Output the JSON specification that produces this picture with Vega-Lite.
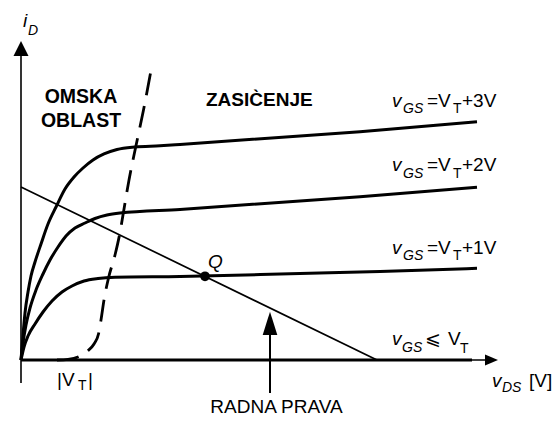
{
  "$schema": "https://vega.github.io/schema/vega-lite/v6.json",
  "width": 560,
  "height": 421,
  "padding": 0,
  "autosize": "none",
  "background": "white",
  "config": {"view": {"stroke": null}, "text": {"font": "Liberation Sans, DejaVu Sans", "color": "black"}},
  "datasets": {
    "curves": [
      {"curve": "VT+1V", "x": 0, "y": 0}, {"curve": "VT+1V", "x": 0.075, "y": 0.433}, {"curve": "VT+1V", "x": 0.175, "y": 0.8},
      {"curve": "VT+1V", "x": 0.35, "y": 1.2}, {"curve": "VT+1V", "x": 0.55, "y": 1.6}, {"curve": "VT+1V", "x": 0.775, "y": 1.967},
      {"curve": "VT+1V", "x": 1.025, "y": 2.267}, {"curve": "VT+1V", "x": 1.275, "y": 2.467}, {"curve": "VT+1V", "x": 1.575, "y": 2.633},
      {"curve": "VT+1V", "x": 1.925, "y": 2.717}, {"curve": "VT+1V", "x": 2.35, "y": 2.757}, {"curve": "VT+1V", "x": 3.975, "y": 2.783},
      {"curve": "VT+1V", "x": 6.975, "y": 2.883}, {"curve": "VT+1V", "x": 8.975, "y": 2.95}, {"curve": "VT+1V", "x": 11.4, "y": 3.057},
      {"curve": "VT+2V", "x": 0, "y": 0}, {"curve": "VT+2V", "x": 0.05, "y": 0.567}, {"curve": "VT+2V", "x": 0.125, "y": 1.167},
      {"curve": "VT+2V", "x": 0.225, "y": 1.733}, {"curve": "VT+2V", "x": 0.375, "y": 2.333}, {"curve": "VT+2V", "x": 0.55, "y": 2.867},
      {"curve": "VT+2V", "x": 0.725, "y": 3.333}, {"curve": "VT+2V", "x": 0.925, "y": 3.767}, {"curve": "VT+2V", "x": 1.125, "y": 4.133},
      {"curve": "VT+2V", "x": 1.35, "y": 4.4}, {"curve": "VT+2V", "x": 1.6, "y": 4.567}, {"curve": "VT+2V", "x": 1.85, "y": 4.717},
      {"curve": "VT+2V", "x": 2.15, "y": 4.833}, {"curve": "VT+2V", "x": 2.475, "y": 4.9}, {"curve": "VT+2V", "x": 3.975, "y": 5.017},
      {"curve": "VT+2V", "x": 8.475, "y": 5.443}, {"curve": "VT+2V", "x": 11.4, "y": 5.757},
      {"curve": "VT+3V", "x": 0, "y": 0}, {"curve": "VT+3V", "x": 0.05, "y": 0.833}, {"curve": "VT+3V", "x": 0.1, "y": 1.567},
      {"curve": "VT+3V", "x": 0.175, "y": 2.267}, {"curve": "VT+3V", "x": 0.25, "y": 2.8}, {"curve": "VT+3V", "x": 0.35, "y": 3.267},
      {"curve": "VT+3V", "x": 0.5, "y": 3.867}, {"curve": "VT+3V", "x": 0.675, "y": 4.533}, {"curve": "VT+3V", "x": 0.875, "y": 5.1},
      {"curve": "VT+3V", "x": 1.1, "y": 5.7}, {"curve": "VT+3V", "x": 1.325, "y": 6.1}, {"curve": "VT+3V", "x": 1.55, "y": 6.4},
      {"curve": "VT+3V", "x": 1.8, "y": 6.667}, {"curve": "VT+3V", "x": 2.075, "y": 6.867}, {"curve": "VT+3V", "x": 2.4, "y": 7.017},
      {"curve": "VT+3V", "x": 2.85, "y": 7.1}, {"curve": "VT+3V", "x": 3.475, "y": 7.14}, {"curve": "VT+3V", "x": 3.975, "y": 7.183},
      {"curve": "VT+3V", "x": 8.475, "y": 7.61}, {"curve": "VT+3V", "x": 11.4, "y": 7.943}
    ],
    "cutoff": [{"x": 0, "y": 0}, {"x": 11.275, "y": 0}],
    "boundary": [
      {"x": 0.9, "y": 0}, {"x": 1.175, "y": 0.023}, {"x": 1.45, "y": 0.117}, {"x": 1.65, "y": 0.283},
      {"x": 1.825, "y": 0.533}, {"x": 1.9375, "y": 0.867}, {"x": 2.0, "y": 1.333}, {"x": 2.075, "y": 2.0},
      {"x": 2.1875, "y": 2.733}, {"x": 2.35, "y": 3.5}, {"x": 2.4625, "y": 4.167}, {"x": 2.5625, "y": 4.933},
      {"x": 2.7, "y": 6.0}, {"x": 2.8625, "y": 7.067}, {"x": 3.0625, "y": 8.333}, {"x": 3.275, "y": 9.833}
    ],
    "loadLine": [{"x": 0, "y": 5.767}, {"x": 8.9, "y": 0}],
    "qPoint": [{"x": 4.6, "y": 2.79}],
    "italicMain": [
      {"label": "v", "x": 9.275, "y": 8.45}, {"label": "v", "x": 9.275, "y": 6.3}, {"label": "v", "x": 9.275, "y": 3.55},
      {"label": "v", "x": 9.275, "y": 0.5}, {"label": "v", "x": 11.775, "y": -0.9},
      {"label": "i", "x": 0.05, "y": 11.1}, {"label": "Q", "x": 4.675, "y": 3.067}
    ],
    "italicSub": [
      {"label": "GS", "x": 9.55, "y": 8.233}, {"label": "GS", "x": 9.55, "y": 6.083}, {"label": "GS", "x": 9.55, "y": 3.333},
      {"label": "GS", "x": 9.525, "y": 0.267}, {"label": "DS", "x": 12.025, "y": -1.067}, {"label": "D", "x": 0.175, "y": 10.833}
    ],
    "uprightMain": [
      {"label": "=V", "x": 10.15, "y": 8.45}, {"label": "=V", "x": 10.15, "y": 6.3}, {"label": "=V", "x": 10.15, "y": 3.55},
      {"label": "+3V", "x": 11.025, "y": 8.45}, {"label": "+2V", "x": 11.025, "y": 6.3}, {"label": "+1V", "x": 11.025, "y": 3.55},
      {"label": "⩽", "x": 10.1, "y": 0.5}, {"label": "V", "x": 10.675, "y": 0.5},
      {"label": "[V]", "x": 12.7, "y": -0.9}, {"label": "|V", "x": 0.9, "y": -0.867}, {"label": "|", "x": 1.675, "y": -0.867}
    ],
    "uprightSub": [
      {"label": "T", "x": 10.8, "y": 8.233}, {"label": "T", "x": 10.8, "y": 6.083}, {"label": "T", "x": 10.8, "y": 3.333},
      {"label": "T", "x": 10.975, "y": 0.233}, {"label": "T", "x": 1.425, "y": -1.0}
    ],
    "regionTitles": [{"label": "OMSKA", "x": 1.5, "y": 8.567}, {"label": "OBLAST", "x": 1.5, "y": 7.767}],
    "saturationTitle": [{"label": "ZASIC\u0300ENJE", "x": 4.625, "y": 8.467}],
    "loadLineTitle": [{"label": "RADNA PRAVA", "x": 6.3875, "y": -1.767}]
  },
  "encoding": {
    "x": {"field": "x", "type": "quantitative", "axis": null, "scale": {"domain": [-0.525, 13.475], "nice": false, "zero": false}},
    "y": {"field": "y", "type": "quantitative", "axis": null, "scale": {"domain": [-2.0333, 12], "nice": false, "zero": false}}
  },
  "layer": [
    {
      "data": {"values": [{"x": 0, "y": -0.767, "y2": 10.333}]},
      "mark": {"type": "rule", "strokeWidth": 1.6, "color": "black"},
      "encoding": {"y2": {"field": "y2"}}
    },
    {
      "data": {"values": [{"x": 0, "x2": 11.725, "y": 0}]},
      "mark": {"type": "rule", "strokeWidth": 1.6, "color": "black"},
      "encoding": {"x2": {"field": "x2"}}
    },
    {
      "data": {"values": [{"x": 0, "y": 10.383}]},
      "mark": {"type": "point", "shape": "M0,-1L1,1L-1,1Z", "size": 225, "filled": true, "color": "black", "opacity": 1}
    },
    {
      "data": {"values": [{"x": 11.7625, "y": 0}]},
      "mark": {"type": "point", "shape": "M1,0L-1,-0.85L-1,0.85Z", "size": 169, "filled": true, "color": "black", "opacity": 1}
    },
    {
      "data": {"name": "loadLine"},
      "mark": {"type": "line", "strokeWidth": 1.7, "color": "black"}
    },
    {
      "data": {"name": "curves"},
      "mark": {"type": "line", "strokeWidth": 3, "color": "black", "interpolate": "monotone"},
      "encoding": {"detail": {"field": "curve"}}
    },
    {
      "data": {"name": "cutoff"},
      "mark": {"type": "line", "strokeWidth": 3, "color": "black"}
    },
    {
      "data": {"name": "boundary"},
      "mark": {"type": "line", "strokeWidth": 2.8, "color": "black", "strokeDash": [22, 11], "interpolate": "monotone"}
    },
    {
      "data": {"name": "qPoint"},
      "mark": {"type": "point", "shape": "circle", "size": 95, "filled": true, "color": "black", "opacity": 1}
    },
    {
      "data": {"values": [{"x": 6.225, "y": -1.1, "y2": 1.0}]},
      "mark": {"type": "rule", "strokeWidth": 2, "color": "black"},
      "encoding": {"y2": {"field": "y2"}}
    },
    {
      "data": {"values": [{"x": 6.225, "y": 1.222}]},
      "mark": {"type": "point", "shape": "M0,-1L0.63,1L-0.63,1Z", "size": 543, "filled": true, "color": "black", "opacity": 1}
    },
    {
      "data": {"name": "italicMain"},
      "mark": {"type": "text", "align": "left", "baseline": "alphabetic", "fontSize": 19, "fontStyle": "italic"},
      "encoding": {"text": {"field": "label"}}
    },
    {
      "data": {"name": "italicSub"},
      "mark": {"type": "text", "align": "left", "baseline": "alphabetic", "fontSize": 14, "fontStyle": "italic"},
      "encoding": {"text": {"field": "label"}}
    },
    {
      "data": {"name": "uprightMain"},
      "mark": {"type": "text", "align": "left", "baseline": "alphabetic", "fontSize": 19},
      "encoding": {"text": {"field": "label"}}
    },
    {
      "data": {"name": "uprightSub"},
      "mark": {"type": "text", "align": "left", "baseline": "alphabetic", "fontSize": 14},
      "encoding": {"text": {"field": "label"}}
    },
    {
      "data": {"name": "regionTitles"},
      "mark": {"type": "text", "align": "center", "baseline": "alphabetic", "fontSize": 19.5, "fontWeight": "bold"},
      "encoding": {"text": {"field": "label"}}
    },
    {
      "data": {"name": "saturationTitle"},
      "mark": {"type": "text", "align": "left", "baseline": "alphabetic", "fontSize": 19, "fontWeight": "bold"},
      "encoding": {"text": {"field": "label"}}
    },
    {
      "data": {"name": "loadLineTitle"},
      "mark": {"type": "text", "align": "center", "baseline": "alphabetic", "fontSize": 19},
      "encoding": {"text": {"field": "label"}}
    }
  ]
}
